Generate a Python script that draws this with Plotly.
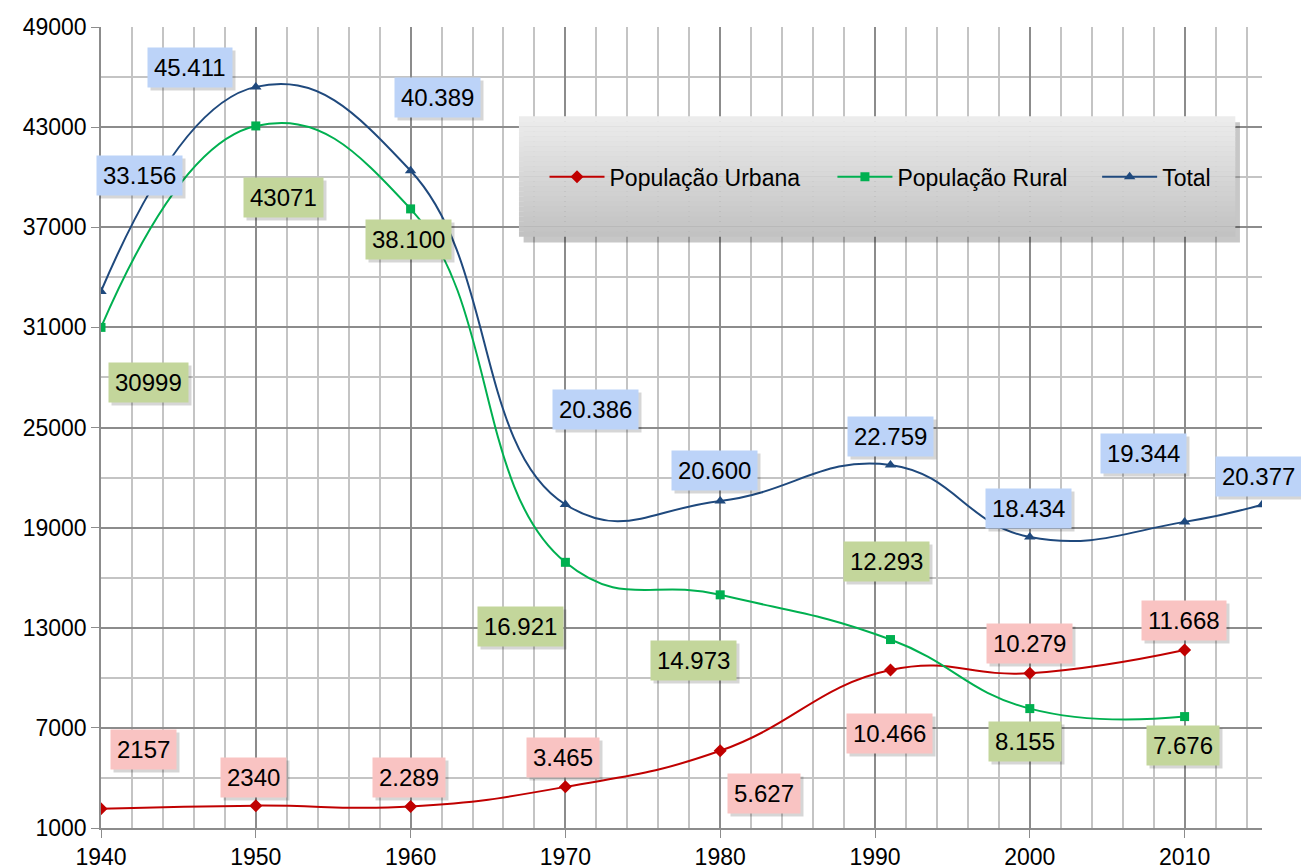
import plotly.graph_objects as go

# ---- data ----
years = [1940, 1950, 1960, 1970, 1980, 1991, 2000, 2010]
years_total = [1940, 1950, 1960, 1970, 1980, 1991, 2000, 2010, 2015]
urbana = [2157, 2340, 2289, 3465, 5627, 10466, 10279, 11668]
rural = [30999, 43071, 38100, 16921, 14973, 12293, 8155, 7676]
total = [33156, 45411, 40389, 20386, 20600, 22759, 18434, 19344, 20377]

urbana_labels = ["2157", "2340", "2.289", "3.465", "5.627", "10.466", "10.279", "11.668"]
rural_labels = ["30999", "43071", "38.100", "16.921", "14.973", "12.293", "8.155", "7.676"]
total_labels = ["33.156", "45.411", "40.389", "20.386", "20.600", "22.759", "18.434", "19.344", "20.377"]

x_ticks = [1940, 1950, 1960, 1970, 1980, 1990, 2000, 2010]
x_tick_text = ["1940", "1950", "1960", "1970", "1980", "1990", "2000", "2010"]

# ---- label offsets in pixels (style) ----
urbana_off = [(42, 59), (-2, 28), (-2, 29), (-2, 29), (44, -43), (-1, -63), (0, 30), (-1, 29)]
rural_off = [(47, -55), (28, -72), (-2, -31), (-45, -64), (-27, -66), (-4, 78), (-5, -33), (-2, -29)]
total_off = [(38, 116), (-66, 19), (27, 73), (30, 95), (-6, 30), (0, 28), (-1, 29), (-41, 68), (-4, 28)]

FONT = "Liberation Sans, Arial, sans-serif"
C_URB = "#c00000"
C_RUR = "#00b050"
C_TOT = "#1f497d"
SMOOTH = 1.3

fig = go.Figure()
fig.add_trace(go.Scatter(x=years, y=urbana, name="População Urbana", mode="lines+markers",
                         legend="legend",
                         line=dict(color=C_URB, width=2, shape="spline", smoothing=SMOOTH),
                         marker=dict(symbol="diamond", size=10, color=C_URB)))
fig.add_trace(go.Scatter(x=years, y=rural, name="População Rural", mode="lines+markers",
                         legend="legend2",
                         line=dict(color=C_RUR, width=2, shape="spline", smoothing=SMOOTH),
                         marker=dict(symbol="square", size=9, color=C_RUR)))
fig.add_trace(go.Scatter(x=years_total, y=total, name="Total", mode="lines+markers",
                         legend="legend3",
                         line=dict(color=C_TOT, width=2, shape="spline", smoothing=SMOOTH),
                         marker=dict(symbol="triangle-up", size=10, color=C_TOT)))

annotations = []


def add_labels(xs, ys, texts, offs, bg):
    for x, y, t, (dx, dy) in zip(xs, ys, texts, offs):
        # shadow
        annotations.append(dict(x=x, y=y, xref="x", yref="y", text=t, showarrow=False,
                                xshift=dx + 3, yshift=dy - 3,
                                font=dict(family=FONT, size=24, color="rgba(0,0,0,0)"),
                                bgcolor="rgba(0,0,0,0.16)", borderpad=6))
        annotations.append(dict(x=x, y=y, xref="x", yref="y", text=t, showarrow=False,
                                xshift=dx, yshift=dy,
                                font=dict(family=FONT, size=24, color="#000000"),
                                bgcolor=bg, borderpad=6))


add_labels(years_total, total, total_labels, total_off, "#bcd3f8")
add_labels(years, rural, rural_labels, rural_off, "#c3d69b")
add_labels(years, urbana, urbana_labels, urbana_off, "#f9c3c2")

# legend background with gradient strips and shadow
shapes = []
lx0, lx1, ly0, ly1 = 0.360, 0.977, 0.738, 0.888
shapes.append(dict(type="rect", xref="paper", yref="paper", x0=lx0 + 0.004, x1=lx1 + 0.004,
                   y0=ly0 - 0.007, y1=ly1 - 0.007, fillcolor="rgba(0,0,0,0.22)",
                   line=dict(width=0), layer="above"))
n = 24
for i in range(n):
    f = i / (n - 1)
    g = int(round(236 - (236 - 194) * f))
    ya = ly1 - (ly1 - ly0) * i / n
    yb = ly1 - (ly1 - ly0) * (i + 1) / n
    shapes.append(dict(type="rect", xref="paper", yref="paper", x0=lx0, x1=lx1, y0=yb, y1=ya + 0.0005,
                       fillcolor=f"rgb({g},{g},{g})", line=dict(width=0), layer="above"))


def leg(xpos):
    return dict(orientation="h", x=xpos, xanchor="left", y=0.813, yanchor="middle",
                bgcolor="rgba(0,0,0,0)", borderwidth=0,
                font=dict(family=FONT, size=23, color="#000000"), itemwidth=55)


fig.update_layout(
    width=1301, height=866,
    margin=dict(l=101, r=39, t=27, b=38, autoexpand=False),
    paper_bgcolor="white", plot_bgcolor="white",
    font=dict(family=FONT, size=23, color="#000000"),
    showlegend=True,
    legend=leg(0.382),
    legend2=leg(0.630),
    legend3=leg(0.858),
    annotations=annotations,
    shapes=shapes,
    xaxis=dict(range=[1940, 2015], tickmode="array", tickvals=x_ticks, ticktext=x_tick_text,
               automargin=False,
               showgrid=True, gridcolor="#8c8c8c", gridwidth=1.5,
               minor=dict(dtick=2, tick0=1940, showgrid=True, gridcolor="#c4c4c4", gridwidth=1.5),
               ticks="outside", ticklen=8, tickcolor="#8c8c8c",
               showline=True, linecolor="#8c8c8c", linewidth=1.5, zeroline=False,
               tickfont=dict(family=FONT, size=23)),
    yaxis=dict(range=[1000, 49000], tick0=1000, dtick=6000, tickformat="d",
               automargin=False,
               showgrid=True, gridcolor="#8c8c8c", gridwidth=1.5,
               minor=dict(dtick=3000, tick0=1000, showgrid=True, gridcolor="#c4c4c4", gridwidth=1.5),
               ticks="outside", ticklen=8, tickcolor="#8c8c8c",
               showline=True, linecolor="#8c8c8c", linewidth=1.5, zeroline=False,
               tickfont=dict(family=FONT, size=23)),
)

fig.write_html("out.html", config={"displayModeBar": False},
               post_script="document.body.style.margin='0px';")
